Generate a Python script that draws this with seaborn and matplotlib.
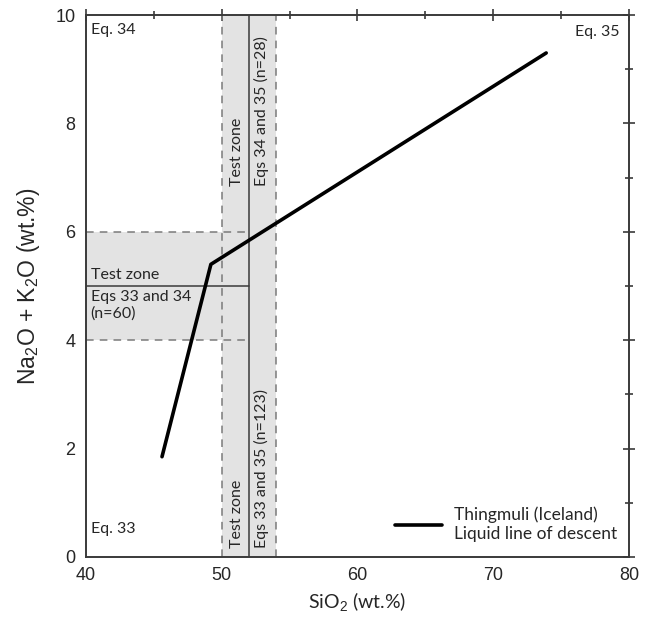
import matplotlib
matplotlib.use("Agg")
import matplotlib.pyplot as plt
import seaborn as sns
import pandas as pd

# Thingmuli (Iceland) liquid line of descent
lld_sio2 = [45.6, 49.2, 73.9]
lld_alk = [1.85, 5.4, 9.3]

# test zones
sio2_zone = [50, 54]      # vertical band (wt.% SiO2)
sio2_split = 52
alk_zone = [4, 6]         # horizontal band (wt.% Na2O+K2O)
alk_split = 5

x_ticks = [40, 50, 60, 70, 80]
y_ticks = [0, 2, 4, 6, 8, 10]

sns.set_theme(style="white")
plt.rcParams.update({
    'font.family': ['Liberation Sans', 'DejaVu Sans'],
    'mathtext.fontset': 'custom',
    'mathtext.rm': 'Liberation Sans',
    'mathtext.it': 'Liberation Sans:italic',
})

ANNOT = ['Lato', 'DejaVu Sans']
SHADE = '#e3e3e3'
DASH = '#7a7a7a'
DARK = '#3a3a3a'

fig = plt.figure(figsize=(6.46, 6.21), dpi=100)
ax = fig.add_axes([0.1331, 0.1031, 0.8406, 0.8727])

# shaded zones
ax.axvspan(sio2_zone[0], sio2_zone[1], color=SHADE, lw=0, zorder=0)
ax.fill_between([x_ticks[0], sio2_zone[0]], alk_zone[0], alk_zone[1],
                color=SHADE, lw=0, zorder=0)
ax.fill_between([sio2_zone[0], sio2_split], alk_zone[0], alk_zone[1],
                color=SHADE, lw=0, zorder=0)

# dashed zone boundaries
for xv in sio2_zone:
    ax.axvline(xv, color=DASH, lw=1.1, ls=(0, (5, 4)), zorder=1)
for yv in alk_zone:
    ax.plot([x_ticks[0], sio2_split], [yv, yv], color=DASH, lw=1.1,
            ls=(0, (5, 4)), zorder=1)

# solid split lines
ax.axvline(sio2_split, color=DARK, lw=1.1, zorder=2)
ax.plot([x_ticks[0], sio2_split], [alk_split, alk_split], color=DARK,
        lw=1.1, zorder=2)

# liquid line of descent
df = pd.DataFrame({'SiO2': lld_sio2, 'alk': lld_alk})
sns.lineplot(data=df, x='SiO2', y='alk', sort=False, color='black', lw=2.6,
             ax=ax, zorder=3,
             label='Thingmuli (Iceland)\nLiquid line of descent')

# annotations
fs = 11.5
ax.text(40.35, 9.85, 'Eq. 34', family=ANNOT, fontsize=fs, va='top', ha='left')
ax.text(79.3, 9.82, 'Eq. 35', family=ANNOT, fontsize=fs, va='top', ha='right')
ax.text(40.35, 0.38, 'Eq. 33', family=ANNOT, fontsize=fs, va='bottom', ha='left')

ax.text(51.15, 6.85, 'Test zone', family=ANNOT, fontsize=fs, rotation=90,
        ha='center', va='bottom')
ax.text(52.95, 6.85, 'Eqs 34 and 35 (n=28)', family=ANNOT, fontsize=fs,
        rotation=90, ha='center', va='bottom')
ax.text(51.15, 0.17, 'Test zone', family=ANNOT, fontsize=fs, rotation=90,
        ha='center', va='bottom')
ax.text(52.95, 0.17, 'Eqs 33 and 35 (n=123)', family=ANNOT, fontsize=fs,
        rotation=90, ha='center', va='bottom')

ax.text(40.35, 5.07, 'Test zone', family=ANNOT, fontsize=fs, ha='left',
        va='bottom')
ax.text(40.35, 4.93, 'Eqs 33 and 34\n(n=60)', family=ANNOT, fontsize=fs,
        ha='left', va='top', linespacing=1.2)

leg = ax.legend(loc='lower right', frameon=False, handlelength=2.7,
                handletextpad=0.7, borderaxespad=0.3,
                bbox_to_anchor=(1.0, 0.005),
                prop={'family': ANNOT, 'size': 12.5})
for t in leg.get_texts():
    t.set_linespacing(1.25)

# axes styling
ax.set_xlim(40, 80)
ax.set_ylim(0, 10)
ax.set_xticks(x_ticks)
ax.set_yticks(y_ticks)
ax.set_xticks([45, 55, 65, 75], minor=True)
ax.set_yticks([1, 3, 5, 7, 9], minor=True)
ax.tick_params(which='both', direction='inout', top=True, right=True,
               labeltop=False, labelright=False, color=DARK, width=1.2)
ax.tick_params(which='major', length=9, labelsize=13, pad=3)
ax.tick_params(which='minor', length=6)
for s in ax.spines.values():
    s.set_color(DARK)
    s.set_linewidth(1.4)

ax.set_xlabel('SiO$_2$ (wt.%)', family=ANNOT, fontsize=14, labelpad=4)
ax.set_ylabel('Na$_2$O + K$_2$O (wt.%)', fontsize=16.5, labelpad=10)

fig.savefig('out.png', dpi=100)
